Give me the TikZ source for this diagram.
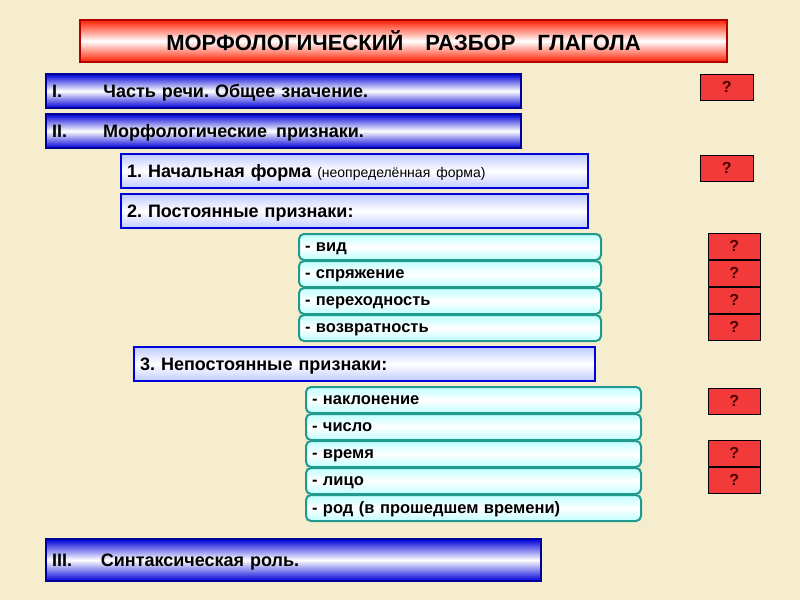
\documentclass[tikz,border=0pt]{standalone}
\usepackage{fontspec}
\setmainfont{Liberation Sans}
\usetikzlibrary{positioning}
\definecolor{bg}{HTML}{F6EDCF}
\definecolor{tealb}{HTML}{1F9A8C}
\definecolor{qred}{HTML}{F23A3A}
\frenchspacing
\tikzset{
  title/.style={draw=red!70!black,line width=2.5pt,top color=red!75!orange,bottom color=red!75!orange,middle color=white,minimum height=42pt,inner xsep=0pt,font=\bfseries\fontsize{22}{25}\selectfont},
  mainbox/.style={draw=blue!60!black,line width=2pt,top color=blue!85!black,bottom color=blue!85!black,middle color=white,anchor=north west,minimum height=34pt,inner xsep=6pt,text depth=0pt,align=left,font=\bfseries\fontsize{18}{21}\selectfont},
  subbox/.style={draw=blue!85!black,line width=2pt,top color=cyan!20!blue!25,bottom color=cyan!20!blue!25,middle color=white,anchor=north west,minimum height=34pt,inner xsep=6pt,text depth=0pt,font=\bfseries\fontsize{18}{21}\selectfont},
  itembox/.style={draw=tealb,line width=2pt,rounded corners=5pt,top color=cyan!25,bottom color=cyan!25,middle color=white,anchor=north west,minimum height=26pt,inner xsep=6pt,text depth=0pt,font=\bfseries\fontsize{16.5}{18}\selectfont},
  qbox/.style={draw=black,fill=qred,anchor=north west,minimum width=53pt,minimum height=26pt,inner sep=0pt,text=black!70!red,font=\bfseries\fontsize{16}{18}\selectfont}
}
\begin{document}
\begin{tikzpicture}[x=1pt,y=-1pt]
  % фон
  \fill[bg] (0,0) rectangle (800,600);
  \useasboundingbox (0,0) rectangle (800,600);
  % заголовок
  \node[title,minimum width=647pt] (title) at (403.5,41) {МОРФОЛОГИЧЕСКИЙ\hspace{1em}РАЗБОР\hspace{1em}ГЛАГОЛА};
  % основные пункты
  \node[mainbox,minimum width=475pt,text width=463pt] (p1) at (45,73) {I.\hspace{2.3em}Часть речи. Общее значение.};
  \node[mainbox,minimum width=475pt,text width=463pt] (p2) at (45,113) {II.\hspace{2em}Морфологические\, признаки.};
  \node[mainbox,minimum width=495pt,minimum height=42pt,text width=483pt] (p3) at (45,538) {III.\hspace{1.6em}Синтаксическая роль.};
  % подпункты
  \node[subbox,minimum width=467pt,text width=455pt,align=left] (s1) at (120,153) {1. Начальная форма {\mdseries\fontsize{14}{16}\selectfont(неопределённая форма)}};
  \node[subbox,minimum width=467pt,text width=455pt,align=left] (s2) at (120,193) {2. Постоянные признаки:};
  \node[subbox,minimum width=461pt,text width=449pt,align=left] (s3) at (133,346) {3. Непостоянные признаки:};
  % постоянные
  \foreach \t [count=\i] in {вид,спряжение,переходность,возвратность}
    \node[itembox,minimum width=302pt,text width=290pt,align=left] (c\i) at (298,206+27*\i) {- \t};
  % непостоянные
  \foreach \t [count=\i] in {наклонение,число,время,лицо,род (в прошедшем времени)}
    \node[itembox,minimum width=335pt,text width=323pt,align=left] (n\i) at (305,359+27*\i) {- \t};
  % вопросы
  \node[qbox] (q1) at (700,74) {?};
  \node[qbox] (q2) at (700,155) {?};
  \foreach \i in {1,...,4}
    \node[qbox,minimum width=52pt] (qc\i) at (708,206+27*\i) {?};
  \node[qbox,minimum width=52pt] (qn1) at (708,388) {?};
  \node[qbox,minimum width=52pt] (qn3) at (708,440) {?};
  \node[qbox,minimum width=52pt] (qn4) at (708,467) {?};
\end{tikzpicture}
\end{document}
